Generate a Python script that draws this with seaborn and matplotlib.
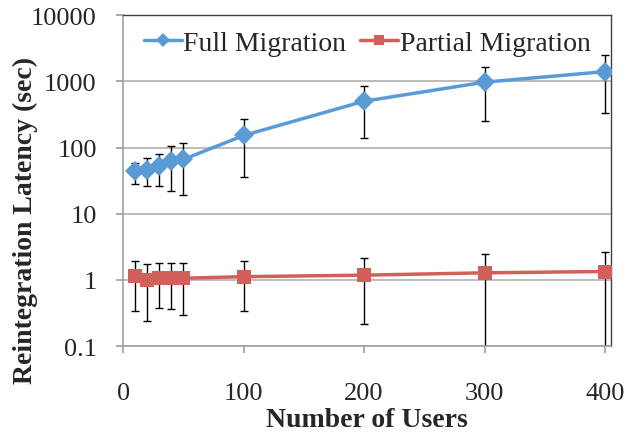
import numpy as np
import pandas as pd
import matplotlib
matplotlib.use("Agg")
import matplotlib.pyplot as plt
import seaborn as sns

users = [10, 20, 30, 40, 50, 100, 200, 300, 400]
full_mean = [43.5, 46, 52, 63, 66, 152, 500, 970, 1400]
full_low = [28.4, 26, 26, 21.7, 18.9, 35.3, 139, 253, 334]
full_high = [58.8, 70, 79.5, 105, 115, 271, 861, 1667, 2500]
partial_mean = [1.14, 1.0, 1.08, 1.08, 1.06, 1.12, 1.18, 1.28, 1.34]
partial_low = [0.343, 0.242, 0.38, 0.36, 0.295, 0.345, 0.215, 0.01, 0.01]
partial_high = [1.94, 1.75, 1.79, 1.81, 1.83, 1.94, 2.15, 2.48, 2.68]
y_ticks = [0.1, 1, 10, 100, 1000, 10000]
y_tick_labels = ["0.1", "1", "10", "100", "1000", "10000"]
x_ticks = [0, 100, 200, 300, 400]

sns.set_theme(style="white")
plt.rcParams['font.family'] = ['Liberation Serif', 'DejaVu Serif']

df = pd.DataFrame({
    "users": users * 2,
    "latency": full_mean + partial_mean,
    "series": ["Full Migration"] * len(users) + ["Partial Migration"] * len(users),
})

blue = "#5B9BD5"
red = "#D2605A"

fig = plt.figure(figsize=(6.28, 4.35), dpi=100)
ax = fig.add_axes([0.196, 0.202, 0.777, 0.761])

for mean, lo, hi in [(full_mean, full_low, full_high), (partial_mean, partial_low, partial_high)]:
    m = np.array(mean)
    ax.errorbar(users, m, yerr=[m - np.array(lo), np.array(hi) - m], fmt="none",
                ecolor="black", elinewidth=1.0, capsize=2.8, capthick=1.0, zorder=2)

sns.lineplot(data=df, x="users", y="latency", hue="series", style="series",
             markers={"Full Migration": "D", "Partial Migration": "s"},
             dashes=False, palette={"Full Migration": blue, "Partial Migration": red},
             linewidth=2.5, markersize=10, markeredgewidth=0, ax=ax, zorder=3)

ax.set_yscale("log")
ax.set_ylim(0.1, 10000)
ax.set_xlim(0, 405)
ax.set_yticks(y_ticks)
ax.set_yticklabels(y_tick_labels)
ax.minorticks_off()
ax.set_xticks(x_ticks)
ax.tick_params(axis="both", labelsize=19, length=5, color="#a0a0a0", direction="out",
               left=True, bottom=True)
ax.tick_params(axis="x", pad=21)
ax.tick_params(axis="y", pad=14)
ax.yaxis.grid(True, color="#b0b0b0", linewidth=1.2)
ax.xaxis.grid(False)
for s in ["left", "bottom"]:
    ax.spines[s].set_color("#a0a0a0")
    ax.spines[s].set_linewidth(1.2)
for s in ["top", "right"]:
    ax.spines[s].set_color("#404040")
    ax.spines[s].set_linewidth(1.0)

ax.set_xlabel("Number of Users", fontsize=20, fontweight="bold", labelpad=2)
ax.set_ylabel("Reintegration Latency (sec)", fontsize=20, fontweight="bold")
ax.yaxis.set_label_coords(-0.174, 0.384)

leg = ax.legend(loc="upper center", ncol=2, frameon=False, fontsize=20,
                handlelength=1.37, columnspacing=0.5, handletextpad=0.05,
                bbox_to_anchor=(0.5, 1.03))
for h in leg.legend_handles:
    h.set_markersize(7)

fig.savefig("out.png", dpi=100)
